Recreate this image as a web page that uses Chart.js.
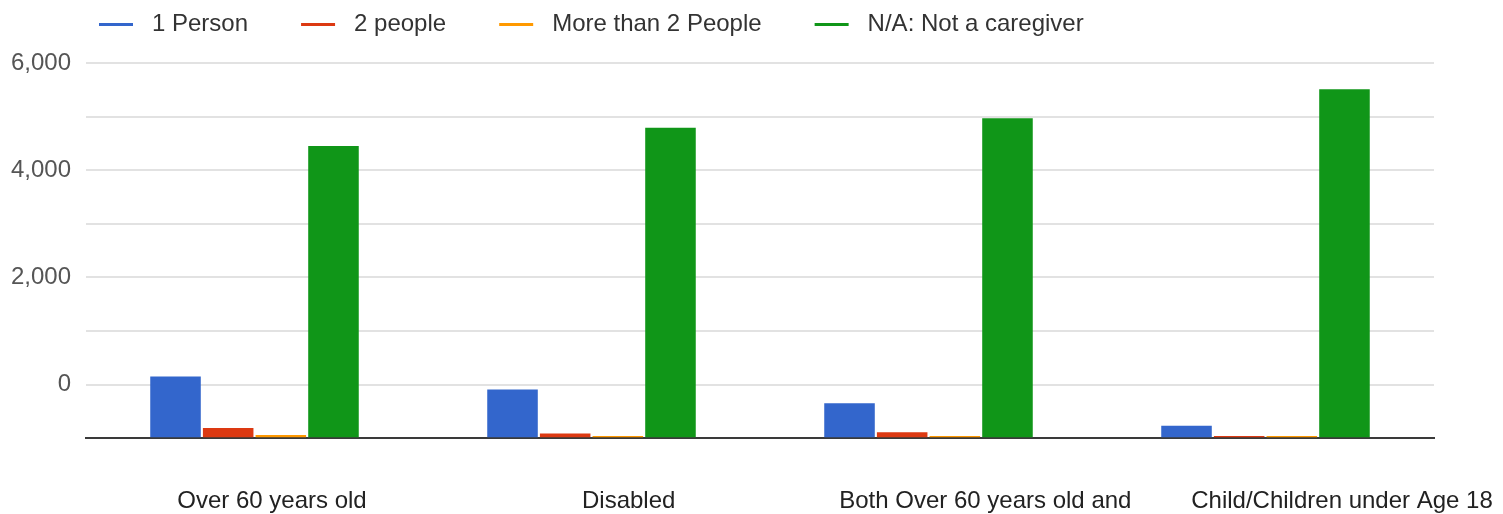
<!DOCTYPE html>
<html>
<head>
<meta charset="utf-8">
<script src="https://cdn.jsdelivr.net/npm/chart.js@4/dist/chart.umd.min.js"></script>
<style>
  html, body { margin: 0; padding: 0; background: #ffffff; }
  #wrap { width: 1503px; height: 514px; position: relative; }
</style>
</head>
<body>
<div id="wrap"><canvas id="chart"></canvas></div>
<script>
// Caregiving responsibilities by type of person cared for
const categories = [
  'Over 60 years old',
  'Disabled',
  'Both Over 60 years old and',
  'Child/Children under Age 18'
];
const seriesNames = ['1 Person', '2 people', 'More than 2 People', 'N/A: Not a caregiver'];
const onePerson    = [150, -90, -350, -770];
const twoPeople    = [-810, -910, -890, -960];
const moreThanTwo  = [-940, -960, -960, -960];
const notCaregiver = [4450, 4790, 4970, 5510];
const yTickLabels  = [0, 2000, 4000, 6000];

const colors = ['#3366cc', '#dc3912', '#ff9900', '#109618'];
const FONT = "'Liberation Sans', Arial, sans-serif";
const AXIS_MIN = -1000;
const AXIS_MAX = 6317;
const GRID_STEP = 1000;
const LEGEND_INDENT = 46;

// Short line marker used as the legend symbol
function lineMarker(color) {
  const c = document.createElement('canvas');
  c.width = 82; c.height = 3;
  const g = c.getContext('2d');
  g.fillStyle = color;
  g.fillRect(41, 0, 34, 3);
  return c;
}
const markers = colors.map(lineMarker);

// Indent the legend row so it starts under the plot rather than at the page edge
const legendIndent = {
  id: 'legendIndent',
  afterLayout(chart) {
    if (chart.legend) {
      chart.legend.left += LEGEND_INDENT;
      chart.legend.right += LEGEND_INDENT;
    }
  }
};

const seriesValues = [onePerson, twoPeople, moreThanTwo, notCaregiver];
const datasets = seriesNames.map((name, i) => ({
  label: name,
  data: seriesValues[i],
  backgroundColor: colors[i],
  borderWidth: 0,
  base: AXIS_MIN,
  categoryPercentage: 0.625,
  barPercentage: 0.96,
  xAxisID: 'x',
  yAxisID: 'y'
}));

new Chart(document.getElementById('chart'), {
  type: 'bar',
  data: { labels: categories, datasets },
  plugins: [legendIndent],
  options: {
    responsive: true,
    maintainAspectRatio: false,
    animation: false,
    layout: { padding: { left: 0, right: 69, top: 0, bottom: -2 } },
    plugins: {
      tooltip: { enabled: false },
      legend: {
        position: 'top',
        align: 'start',
        labels: {
          usePointStyle: true,
          pointStyleWidth: 82,
          padding: 12,
          color: '#333333',
          font: { family: FONT, size: 24 },
          generateLabels(chart) {
            const items = Chart.defaults.plugins.legend.labels.generateLabels(chart);
            items.forEach((it, i) => { it.pointStyle = markers[i]; });
            return items;
          }
        }
      }
    },
    scales: {
      x: {
        type: 'category',
        display: false
      },
      xLabel: {
        type: 'linear',
        position: 'bottom',
        offset: false,
        min: -0.5215,
        max: 3.2579,
        z: 1,
        grid: { display: false, drawTicks: true, tickLength: 49, offset: false },
        border: { display: true, color: '#3a3a3a', width: 2 },
        ticks: {
          stepSize: 1,
          includeBounds: false,
          autoSkip: false,
          maxRotation: 0,
          padding: 0,
          color: '#222222',
          font: { family: FONT, size: 24 },
          callback: (v) => Number.isInteger(v) && categories[v] !== undefined ? categories[v] : ''
        }
      },
      y: {
        type: 'linear',
        min: AXIS_MIN,
        max: AXIS_MAX,
        afterFit(scale) { scale.width = 86; },
        afterBuildTicks(scale) {
          const ticks = [];
          for (let v = AXIS_MIN; v <= AXIS_MAX; v += GRID_STEP) ticks.push({ value: v });
          scale.ticks = ticks;
        },
        border: { display: false },
        grid: {
          drawTicks: false,
          lineWidth: 2,
          color: (ctx) => (ctx.tick && ctx.tick.value === AXIS_MIN) ? 'rgba(0,0,0,0)' : '#e2e2e2'
        },
        ticks: {
          padding: 15,
          color: '#555555',
          font: { family: FONT, size: 24 },
          callback: (v) => yTickLabels.includes(v) ? v.toLocaleString('en-US') : ''
        }
      }
    }
  }
});
</script>
</body>
</html>
